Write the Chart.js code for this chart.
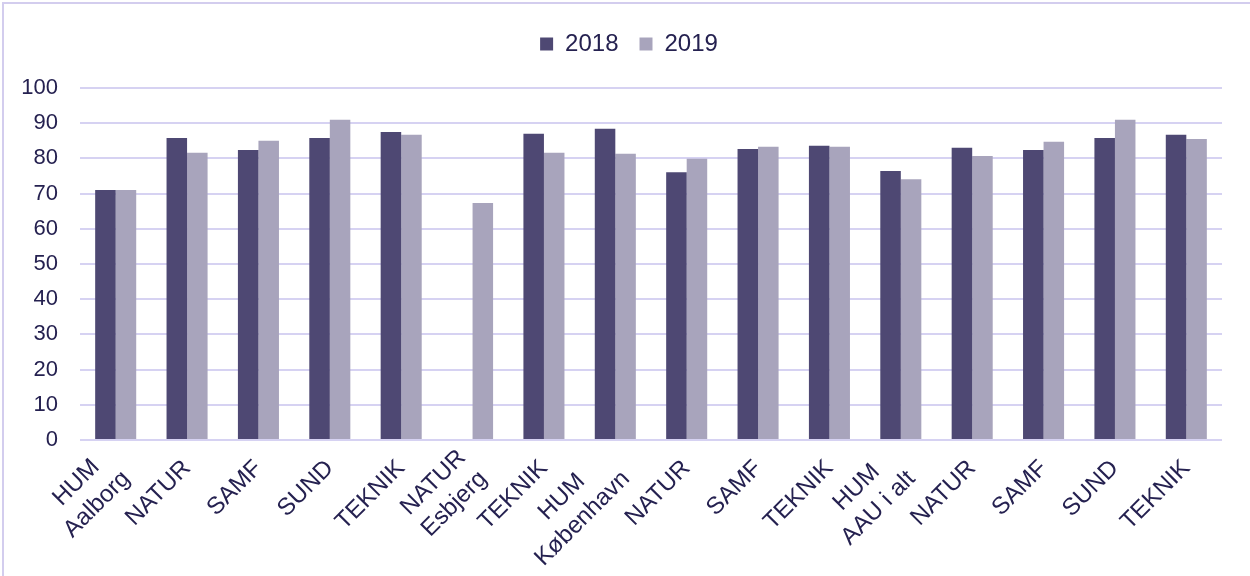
<!DOCTYPE html>
<html>
<head>
<meta charset="utf-8">
<script src="https://cdn.jsdelivr.net/npm/chart.js@4"></script>
<style>
  html, body { margin: 0; padding: 0; background: #fff; overflow: hidden; }
  #frame {
    position: absolute; left: 2px; top: 2px;
    width: 1280px; height: 600px;
    border-top: 2px solid #d3cdee; border-left: 2px solid #d3cdee;
  }
  #wrap { position: absolute; left: 0; top: 0; width: 1246px; height: 572px; }
</style>
</head>
<body>
<div id="frame"><div id="wrap"><canvas id="myChart"></canvas></div></div>
<script>
var categories = [
  ['HUM', 'Aalborg'], 'NATUR', 'SAMF', 'SUND', 'TEKNIK',
  ['NATUR', 'Esbjerg'], 'TEKNIK',
  ['HUM', 'København'], 'NATUR', 'SAMF', 'TEKNIK',
  ['HUM', 'AAU i alt'], 'NATUR', 'SAMF', 'SUND', 'TEKNIK'
];
var values2018 = [71.0, 85.8, 82.4, 85.8, 87.5, null, 87.0, 88.4, 76.1, 82.7, 83.6, 76.4, 83.0, 82.4, 85.8, 86.7];
var values2019 = [71.0, 81.6, 85.0, 91.0, 86.7, 67.3, 81.6, 81.3, 79.9, 83.3, 83.3, 74.1, 80.7, 84.7, 91.0, 85.5];
var yTicks = { min: 0, max: 100, step: 10 };

var textColor = '#252150';
var gridColor = '#d6d2f2';
var fontFamily = 'Liberation Sans, Arial';
var xFontSize = 24;
var xLineHeight = 1.25;

// rotated multi-line labels are right aligned by Chart.js;
// pad the shorter line so the two lines sit centred on each other
var measure = document.createElement('canvas').getContext('2d');
measure.font = xFontSize + 'px ' + fontFamily;
function centerLines(label) {
  if (!Array.isArray(label)) return label;
  var widths = label.map(function (t) { return measure.measureText(t).width; });
  var widest = Math.max.apply(null, widths);
  var space = measure.measureText('\u00a0').width;
  return label.map(function (t, i) {
    var n = Math.round((widest - widths[i]) / 2 / space);
    return t + '\u00a0'.repeat(n);
  });
}
var labels = categories.map(centerLines);

// extra room under the legend, and nudge it right a little
var legendTweak = {
  id: 'legendTweak',
  beforeInit: function (chart) {
    var fit = chart.legend.fit;
    chart.legend.fit = function () {
      fit.bind(chart.legend)();
      this.height += 22;
    };
  },
  afterLayout: function (chart) {
    chart.legend.left += 16;
    chart.legend.right += 16;
  }
};

// centre a multi-line label block on the spot a single line would take
var stackLabelsUp = {
  id: 'stackLabelsUp',
  afterLayout: function (chart) {
    var s = chart.scales.x;
    if (!s._stackPatched) {
      var orig = s._computeLabelItems;
      s._computeLabelItems = function (area) {
        var items = orig.call(this, area);
        items.forEach(function (it) {
          if (Array.isArray(it.label)) {
            it.textOffset -= (it.label.length - 1) * xFontSize * xLineHeight / 2;
          }
        });
        return items;
      };
      s._stackPatched = true;
    }
    s._labelItems = null;
  }
};

var ctx = document.getElementById('myChart').getContext('2d');
var myChart = new Chart(ctx, {
  type: 'bar',
  data: {
    labels: labels,
    datasets: [
      { label: '2018', data: values2018, backgroundColor: '#4e4873' },
      { label: '2019', data: values2019, backgroundColor: '#a8a4bc' }
    ]
  },
  plugins: [legendTweak, stackLabelsUp],
  options: {
    responsive: true,
    maintainAspectRatio: false,
    animation: false,
    layout: { padding: { top: 7, right: 28, left: 0, bottom: 0 } },
    plugins: {
      legend: {
        position: 'top',
        labels: {
          color: textColor,
          font: { family: fontFamily, size: 24 },
          boxWidth: 13,
          boxHeight: 13,
          padding: 21
        }
      },
      tooltip: { enabled: false }
    },
    datasets: {
      bar: { categoryPercentage: 0.575, barPercentage: 1 }
    },
    scales: {
      x: {
        grid: { display: false, drawTicks: false },
        border: { display: false },
        ticks: {
          color: textColor,
          font: { family: fontFamily, size: xFontSize, lineHeight: xLineHeight },
          minRotation: 45,
          maxRotation: 45,
          autoSkip: false,
          padding: 14
        },
        afterFit: function (s) { s.height = 136; }
      },
      y: {
        min: yTicks.min,
        max: yTicks.max,
        grid: { color: gridColor, lineWidth: 2, drawTicks: false },
        border: { display: false },
        ticks: {
          stepSize: yTicks.step,
          color: textColor,
          font: { family: fontFamily, size: 22 },
          padding: 22
        },
        afterFit: function (s) { s.width = 76; }
      }
    }
  }
});
</script>
</body>
</html>
